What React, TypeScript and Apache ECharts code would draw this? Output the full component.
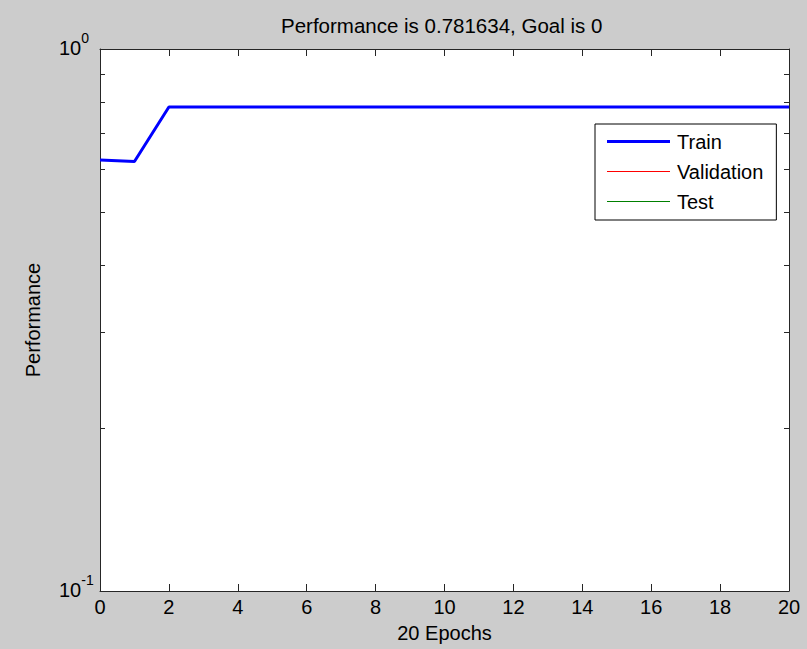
import React, { useEffect, useRef } from "react";
import * as echarts from "echarts";

// Training record: performance per epoch
const epochs = [0, 1, 2, 3, 4, 5, 6, 7, 8, 9, 10, 11, 12, 13, 14, 15, 16, 17, 18, 19, 20];
const trainPerf = [
  0.624, 0.62, 0.781634, 0.781634, 0.781634, 0.781634, 0.781634, 0.781634,
  0.781634, 0.781634, 0.781634, 0.781634, 0.781634, 0.781634, 0.781634,
  0.781634, 0.781634, 0.781634, 0.781634, 0.781634, 0.781634,
];
const validationPerf: number[] = [];
const testPerf: number[] = [];

const seriesNames = ["Train", "Validation", "Test"];
const seriesColors = ["#0000ff", "#ff0000", "#008000"];
const seriesWidths = [3, 1, 1];
const minorTickValues = [0.2, 0.3, 0.4, 0.5, 0.6, 0.7, 0.8, 0.9];
const yRange = [0.1, 1];
const xTickStep = 2;
const bestPerf = 0.781634;
const goal = 0;

const FONT = "'Liberation Sans', Arial, Helvetica, sans-serif";
const AXIS_COLOR = "#262626";
const SWATCH_LEN = 63;

export default function App() {
  const ref = useRef<HTMLDivElement>(null);

  useEffect(() => {
    document.body.style.margin = "0";
    if (!ref.current) return;
    const chart = echarts.init(ref.current, null, { renderer: "svg" });
    const xMin = epochs[0];
    const xMax = epochs[epochs.length - 1];

    // legend swatch: a flat bar as long as the item and as thick as the series line
    const swatch = (w: number) => `path://M0,0H${SWATCH_LEN}V${w}H0Z`;

    chart.setOption({
      animation: false,
      backgroundColor: "#cccccc",
      textStyle: { fontFamily: FONT },
      title: {
        text: `Performance is ${bestPerf}, Goal is ${goal}`,
        left: 281,
        top: 15,
        padding: 0,
        textStyle: { fontFamily: FONT, fontSize: 20.5, fontWeight: "normal", color: "#000" },
      },
      legend: {
        orient: "vertical",
        left: 595,
        top: 124,
        padding: [7.5, 13, 8.5, 12],
        itemWidth: SWATCH_LEN,
        itemHeight: 15,
        itemGap: 10,
        backgroundColor: "#ffffff",
        borderColor: "#000000",
        borderWidth: 1,
        borderRadius: 0,
        selectedMode: false,
        textStyle: { fontFamily: FONT, fontSize: 20, color: "#000", lineHeight: 20, padding: [0, 0, 0, 2] },
        data: seriesNames.map((name, i) => ({
          name,
          icon: swatch(seriesWidths[i]),
          itemStyle: { color: seriesColors[i], opacity: 1, borderWidth: 0 },
        })),
      },
      grid: {
        left: 100,
        right: 18,
        top: 49,
        bottom: 58,
        show: true,
        backgroundColor: "#ffffff",
        borderWidth: 0,
      },
      xAxis: [
        {
          type: "value",
          min: xMin,
          max: xMax,
          interval: xTickStep,
          name: `${xMax} Epochs`,
          nameLocation: "middle",
          nameGap: 32,
          nameTextStyle: { fontFamily: FONT, fontSize: 20, color: "#000" },
          axisLine: { show: true, lineStyle: { color: AXIS_COLOR, width: 1 } },
          axisTick: { show: true, inside: true, length: 7, lineStyle: { color: AXIS_COLOR } },
          axisLabel: { margin: 6, fontFamily: FONT, fontSize: 20, color: "#000" },
          splitLine: { show: false },
        },
        {
          type: "value",
          position: "top",
          min: xMin,
          max: xMax,
          interval: xTickStep,
          axisLine: { show: true, onZero: false, lineStyle: { color: AXIS_COLOR, width: 1 } },
          axisTick: { show: true, inside: true, length: 7, lineStyle: { color: AXIS_COLOR } },
          axisLabel: { show: false },
          splitLine: { show: false },
        },
      ],
      yAxis: [
        {
          type: "log",
          logBase: 10,
          min: yRange[0],
          max: yRange[1],
          name: "Performance",
          nameLocation: "middle",
          nameGap: 57,
          nameTextStyle: { fontFamily: FONT, fontSize: 20, color: "#000" },
          axisLine: { show: true, lineStyle: { color: AXIS_COLOR, width: 1 } },
          axisTick: { show: false },
          axisLabel: {
            align: "left",
            margin: 41,
            padding: [0, 0, 17, 0],
            formatter: (v: number) => `{b|10}{s|${Math.round(Math.log10(v))}}`,
            rich: {
              b: { fontFamily: FONT, fontSize: 20, lineHeight: 20, color: "#000", verticalAlign: "top", padding: [7, 0, 0, 0] },
              s: { fontFamily: FONT, fontSize: 14, lineHeight: 14, color: "#000", verticalAlign: "top" },
            },
          },
          splitLine: { show: false },
        },
        {
          type: "log",
          logBase: 10,
          position: "right",
          min: yRange[0],
          max: yRange[1],
          axisLine: { show: true, onZero: false, lineStyle: { color: AXIS_COLOR, width: 1 } },
          axisTick: { show: false },
          axisLabel: { show: false },
          splitLine: { show: false },
        },
      ],
      series: [
        {
          name: seriesNames[0],
          type: "line",
          data: epochs.map((e, i) => [e, trainPerf[i]]),
          symbol: "none",
          lineStyle: { color: seriesColors[0], width: seriesWidths[0] },
          itemStyle: { color: seriesColors[0] },
          z: 5,
        },
        {
          name: seriesNames[1],
          type: "line",
          data: validationPerf.map((v, i) => [epochs[i], v]),
          symbol: "none",
          lineStyle: { color: seriesColors[1], width: seriesWidths[1] },
          itemStyle: { color: seriesColors[1] },
        },
        {
          name: seriesNames[2],
          type: "line",
          data: testPerf.map((v, i) => [epochs[i], v]),
          symbol: "none",
          lineStyle: { color: seriesColors[2], width: seriesWidths[2] },
          itemStyle: { color: seriesColors[2] },
        },
        {
          // log-decade minor ticks on the left and right box edges
          type: "custom",
          silent: true,
          clip: false,
          data: minorTickValues.map((v) => [xMin, v]),
          renderItem: (_params: any, api: any) => {
            const v = api.value(1);
            const l = api.coord([xMin, v]);
            const r = api.coord([xMax, v]);
            const y = Math.round(l[1]) + 0.5;
            const style = { stroke: AXIS_COLOR, lineWidth: 1 };
            return {
              type: "group",
              children: [
                { type: "line", shape: { x1: l[0], y1: y, x2: l[0] + 5, y2: y }, style },
                { type: "line", shape: { x1: r[0] - 5, y1: y, x2: r[0], y2: y }, style },
              ],
            };
          },
        },
      ],
    });

    return () => chart.dispose();
  }, []);

  return (
    <div
      ref={ref}
      style={{ position: "absolute", left: 0, top: 0, width: 807, height: 649 }}
    />
  );
}
